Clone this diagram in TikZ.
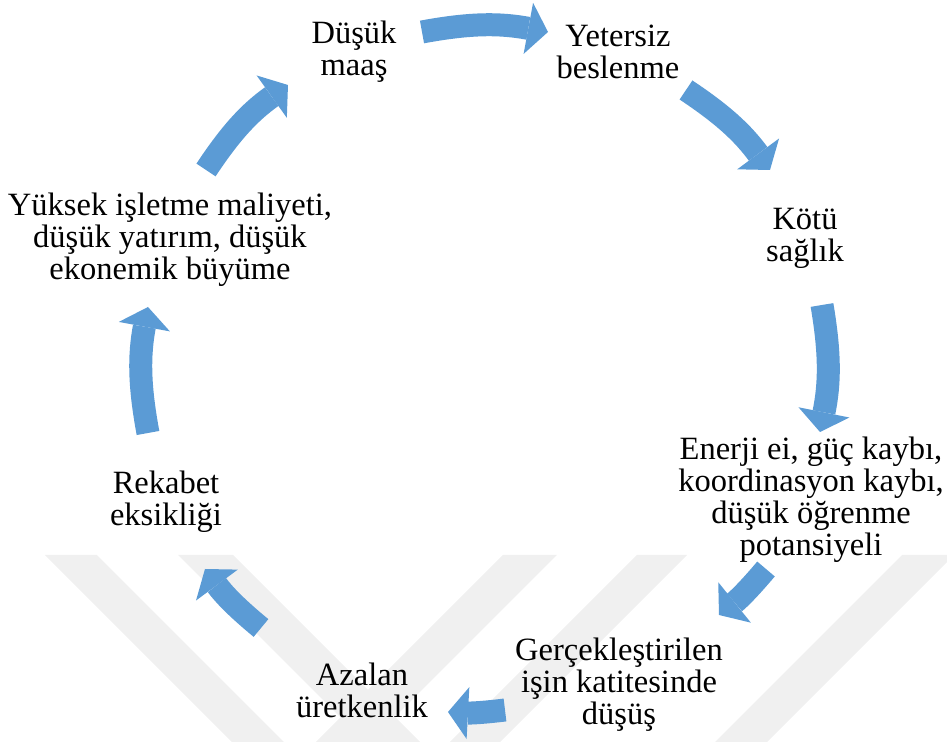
\documentclass[tikz,border=0pt]{standalone}
\usepackage{fontspec}
\setmainfont{Liberation Serif}
\usetikzlibrary{arrows.meta,positioning}
\definecolor{cycblue}{HTML}{5B9BD5}

\begin{document}
\begin{tikzpicture}[x=0.5pt,y=0.5pt,
        every node/.style={align=center,inner sep=0pt,font=\fontsize{16.25}{16}\selectfont},
        step node/.style={align=center,inner sep=0pt},
        cycarrow/.style={color=cycblue,line width=11.5pt,line cap=butt,
            -{Triangle[width=26pt,length=10pt,line width=0pt,fill=cycblue]}},
        wmark/.style={fill=black!6,draw=none},
        ]

\useasboundingbox (-484,-374) rectangle (463,368);

% watermark in the background
\fill[wmark] (-439,-187) -- (-387,-187) -- (-200,-374) -- (-252,-374) -- cycle;
\fill[wmark] (-306,-187) -- (-251,-187) -- (-64,-374) -- (-119,-374) -- cycle;
\fill[wmark] (19,-187) -- (73,-187) -- (-114,-374) -- (-168,-374) -- cycle;
\fill[wmark] (153,-187) -- (203,-187) -- (16,-374) -- (-34,-374) -- cycle;
\fill[wmark] (418,-187) -- (470,-187) -- (283,-374) -- (231,-374) -- cycle;

\node [step node] (maas) at (-130,316) {Düşük\\maaş};
\node [step node] (beslenme) at (134,316) {Yetersiz\\beslenme};
\node [step node] (saglik) at (321,130) {Kötü\\sağlık};
\node [step node] (enerji) at (327,-132) {Enerji ei, güç kaybı,\\koordinasyon kaybı,\\düşük öğrenme\\potansiyeli};
\node [step node] (gercek) at (135,-317) {Gerçekleştirilen\\işin katitesinde\\düşüş};
\node [step node] (azalan) at (-122,-322) {Azalan\\üretkenlik};
\node [step node] (rekabet) at (-318,-134) {Rekabet\\eksikliği};
\node [step node] (yuksek) at (-314,128) {Yüksek işletme maliyeti,\\düşük yatırım, düşük\\ekonemik büyüme};

% arrow ends round the cycle
\coordinate (t1) at (-62,336);   \coordinate (h1) at (64,336);
\coordinate (t2) at (202,278);   \coordinate (h2) at (286,198);
\coordinate (t3) at (338,63);    \coordinate (h3) at (336,-64);
\coordinate (t4) at (282,-201);  \coordinate (h4) at (235,-247);
\coordinate (t5) at (21,-342);   \coordinate (h5) at (-36,-344);
\coordinate (t6) at (-223,-260); \coordinate (h6) at (-279,-201);
\coordinate (t7) at (-336,-65);  \coordinate (h7) at (-336,61);
\coordinate (t8) at (-278,198);  \coordinate (h8) at (-196,283);

    \draw[cycarrow] (t1) to[bend left=10.5] (h1);
    \draw[cycarrow] (t2) to[bend left=10] (h2);
    \draw[cycarrow] (t3) to[bend left=10.5] (h3);
    \draw[cycarrow] (t4) to[bend left=5.5] (h4);
    \draw[cycarrow] (t5) to[bend left=5] (h5);
    \draw[cycarrow] (t6) to[bend left=7] (h6);
    \draw[cycarrow] (t7) to[bend left=10.5] (h7);
    \draw[cycarrow] (t8) to[bend left=10.5] (h8);

\end{tikzpicture}
\end{document}
